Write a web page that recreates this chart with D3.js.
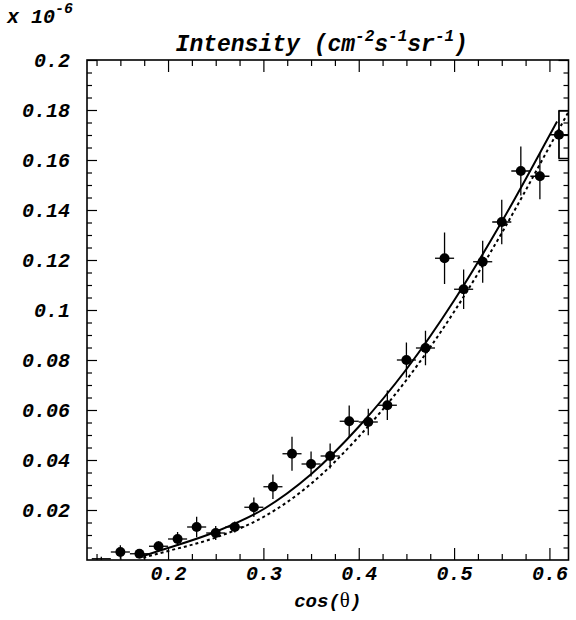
<!DOCTYPE html>
<html>
<head>
<meta charset="utf-8">
<script src="https://cdn.jsdelivr.net/npm/d3@7"></script>
<style>
body { margin: 0; background: #fff; }
text { font-family: "Liberation Mono", "DejaVu Sans Mono", monospace; font-weight: bold; font-style: italic; fill: #000; }
</style>
</head>
<body>
<div class="canvas"></div>
<script>
var WIDTH = 576;
var HEIGHT = 620;
var margin = {top: 60, right: 7.5, bottom: 60, left: 87};

// measured points, intensity in units of 1e-6
var cos_vals = [0.13, 0.15, 0.17, 0.19, 0.21, 0.23, 0.25, 0.27, 0.29, 0.31, 0.33, 0.35,
	0.37, 0.39, 0.41, 0.43, 0.45, 0.47, 0.49, 0.51, 0.53, 0.55, 0.57, 0.59, 0.61];
var intensity = [0.0005, 0.0032, 0.0025, 0.0055, 0.0084, 0.0132, 0.0108, 0.0132, 0.0211, 0.0293, 0.0425, 0.0384,
	0.0416, 0.0555, 0.0552, 0.0619, 0.0800, 0.0848, 0.1207, 0.1083, 0.1193, 0.1352, 0.1556, 0.1535, 0.1701];
var intensity_err = [0.0008, 0.0027, 0.0015, 0.0020, 0.0028, 0.0041, 0.0028, 0.0022, 0.0039, 0.0049, 0.0068, 0.0050,
	0.0050, 0.0063, 0.0053, 0.0059, 0.0070, 0.0069, 0.0103, 0.0079, 0.0084, 0.0089, 0.0098, 0.0092, 0.0095];
var cos_err = 0.01;

// model curves
var solid_x = [0.174, 0.19, 0.20, 0.25, 0.30, 0.35, 0.40, 0.45, 0.50, 0.55, 0.60, 0.608];
var solid_y = [0.0016, 0.0036, 0.0048, 0.0113, 0.0203, 0.0343, 0.0533, 0.0763, 0.1038, 0.1353, 0.1698, 0.1754];
var dotted_x = [0.174, 0.19, 0.20, 0.25, 0.30, 0.35, 0.40, 0.45, 0.50, 0.55, 0.60, 0.62];
var dotted_y = [0.0009, 0.0026, 0.0036, 0.0090, 0.0172, 0.0305, 0.0493, 0.0720, 0.0993, 0.1308, 0.1653, 0.1793];

var x_ticks = [0.2, 0.3, 0.4, 0.5, 0.6];
var x_labels = ["0.2", "0.3", "0.4", "0.5", "0.6"];
var y_ticks = [0.02, 0.04, 0.06, 0.08, 0.1, 0.12, 0.14, 0.16, 0.18, 0.2];
var y_labels = ["0.02", "0.04", "0.06", "0.08", "0.1", "0.12", "0.14", "0.16", "0.18", "0.2"];

var svg = d3.select("div.canvas").append("svg").attr("width", WIDTH).attr("height", HEIGHT);

var x = d3.scaleLinear().domain([0.115, 0.62]).range([margin.left, WIDTH - margin.right]);
var y = d3.scaleLinear().domain([0, 0.2]).range([HEIGHT - margin.bottom, margin.top]);

var x_minor = d3.range(0.125, 0.62, 0.025).filter(function(v) { return Math.abs(v * 10 - Math.round(v * 10)) > 1e-6; });
var y_minor = d3.range(0.005, 0.2, 0.005).filter(function(v) { return Math.abs(v * 50 - Math.round(v * 50)) > 1e-6; });

function lbl(ticks, labels) {
	return function(d) { return labels[ticks.indexOf(d)]; };
}

function add_axis(axis, tx, ty) {
	var g = svg.append("g").attr("transform", "translate(" + tx + "," + ty + ")").call(axis);
	g.select(".domain").remove();
	g.selectAll("line").attr("stroke", "#000").attr("stroke-width", 1.2);
	g.selectAll("text").attr("font-family", null).attr("font-size", 20).style("fill", "#000");
	return g;
}

var by = HEIGHT - margin.bottom, lx = margin.left, rx = WIDTH - margin.right, ty = margin.top;

add_axis(d3.axisBottom(x).tickValues(x_minor).tickSize(-6).tickFormat(""), 0, by);
add_axis(d3.axisBottom(x).tickValues(x_ticks).tickSize(-12).tickPadding(6).tickFormat(lbl(x_ticks, x_labels)), 0, by);
add_axis(d3.axisTop(x).tickValues(x_minor).tickSize(-6).tickFormat(""), 0, ty);
add_axis(d3.axisTop(x).tickValues(x_ticks).tickSize(-12).tickFormat(""), 0, ty);
add_axis(d3.axisLeft(y).tickValues(y_minor).tickSize(-5).tickFormat(""), lx, 0);
add_axis(d3.axisLeft(y).tickValues(y_ticks).tickSize(-10).tickPadding(17).tickFormat(lbl(y_ticks, y_labels)), lx, 0);
add_axis(d3.axisRight(y).tickValues(y_minor).tickSize(-5).tickFormat(""), rx, 0);
add_axis(d3.axisRight(y).tickValues(y_ticks).tickSize(-10).tickFormat(""), rx, 0);

svg.append("defs").append("clipPath").attr("id", "frame")
	.append("rect").attr("x", lx).attr("y", ty).attr("width", rx - lx).attr("height", by - ty);

var plot = svg.append("g").attr("clip-path", "url(#frame)");

var line = d3.line().x(function(d) { return x(d[0]); }).y(function(d) { return y(d[1]); }).curve(d3.curveMonotoneX);

plot.append("path").attr("d", line(d3.zip(solid_x, solid_y)))
	.attr("fill", "none").attr("stroke", "#000").attr("stroke-width", 2);
plot.append("path").attr("d", line(d3.zip(dotted_x, dotted_y)))
	.attr("fill", "none").attr("stroke", "#000").attr("stroke-width", 2).attr("stroke-dasharray", "3,3");

var pts = d3.zip(cos_vals, intensity, intensity_err);
var g = plot.selectAll("g.pt").data(pts).enter().append("g").attr("class", "pt");
g.append("line")
	.attr("x1", function(d) { return x(d[0] - cos_err); })
	.attr("x2", function(d) { return x(d[0] + cos_err); })
	.attr("y1", function(d) { return y(d[1]); })
	.attr("y2", function(d) { return y(d[1]); })
	.attr("stroke", "#000").attr("stroke-width", 1.3);
g.append("line")
	.attr("x1", function(d) { return x(d[0]); })
	.attr("x2", function(d) { return x(d[0]); })
	.attr("y1", function(d) { return y(d[1] - d[2]); })
	.attr("y2", function(d) { return y(d[1] + d[2]); })
	.attr("stroke", "#000").attr("stroke-width", 1.3);
// the empty first bin has no marker
g.filter(function(d) { return d[1] > 0.001; }).append("circle")
	.attr("cx", function(d) { return x(d[0]); })
	.attr("cy", function(d) { return y(d[1]); })
	.attr("r", 5).attr("fill", "#000");

// open box on the last bin
var last = pts[pts.length - 1];
plot.append("path")
	.attr("d", "M" + x(last[0] + cos_err) + "," + y(last[1] + last[2]) +
		"H" + x(last[0]) + "V" + y(last[1] - last[2]) + "H" + x(last[0] + cos_err))
	.attr("fill", "none").attr("stroke", "#000").attr("stroke-width", 1.3);

svg.append("rect").attr("x", lx).attr("y", ty).attr("width", rx - lx).attr("height", by - ty)
	.attr("fill", "none").attr("stroke", "#000").attr("stroke-width", 1.6);

// texts
var t = svg.append("text").attr("x", (lx + rx) / 2 - 6).attr("y", 51).attr("text-anchor", "middle").attr("font-size", 23);
t.append("tspan").text("Intensity (cm");
t.append("tspan").attr("dy", -10).attr("font-size", 16).text("-2");
t.append("tspan").attr("dy", 10).text("s");
t.append("tspan").attr("dy", -10).attr("font-size", 16).text("-1");
t.append("tspan").attr("dy", 10).text("sr");
t.append("tspan").attr("dy", -10).attr("font-size", 16).text("-1");
t.append("tspan").attr("dy", 10).text(")");

var m = svg.append("text").attr("x", 7).attr("y", 23).attr("font-size", 20);
m.append("tspan").text("x 10");
m.append("tspan").attr("dy", -10).attr("font-size", 15).text("-6");

var xl = svg.append("text").attr("x", (lx + rx) / 2).attr("y", 607).attr("text-anchor", "middle").attr("font-size", 19);
xl.append("tspan").text("cos(");
xl.append("tspan").style("font-family", "'Liberation Serif', serif").style("font-weight", "normal").style("font-style", "normal").style("font-size", "21px").text("θ");
xl.append("tspan").text(")");
</script>
</body>
</html>
